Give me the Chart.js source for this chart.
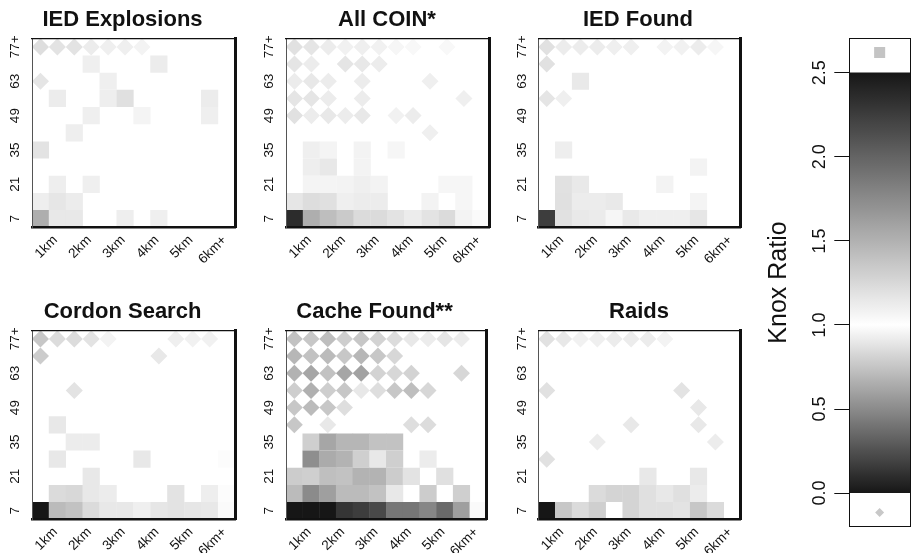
<!DOCTYPE html>
<html lang="en">
<head>
  <meta charset="UTF-8">
  <title>Knox ratio heatmaps</title>
  <script src="https://cdn.jsdelivr.net/npm/chart.js"></script>
  <style>
    body { margin: 0; background: #fff; }
    #wrap { position: relative; width: 911px; height: 553px; overflow: hidden; }
    #wrap canvas { position: absolute; }
  </style>
</head>
<body>
  <div id="wrap"></div>
  <script>
    // axis labels
    const xLabels = ['1km', '2km', '3km', '4km', '5km', '6km+'];
    const yLabels = ['7', '21', '35', '49', '63', '77+'];
    const ratioTicks = [0, 0.5, 1, 1.5, 2, 2.5];
    const legendAbove = 2.62;   // square marker = ratio above 1
    const legendBelow = -0.115; // diamond marker = ratio below 1

    // Knox ratio per cell, rows listed top (77+ days) to bottom (7 days),
    // 12 distance bins per row. 1 = nothing drawn.
    const iedExplosions = [
      [0.86, 0.88, 0.88, 0.92, 0.93, 0.93, 0.95, 1, 1, 1, 1, 1],
      [1, 1, 1, 1.1, 1, 1, 1, 1.12, 1, 1, 1, 1],
      [0.89, 1, 1, 1, 1.1, 1, 1, 1, 1, 1, 1, 1],
      [1, 1.12, 1, 1, 1.11, 1.2, 1, 1, 1, 1, 1.12, 1],
      [1, 1, 1, 1.1, 1, 1, 1.07, 1, 1, 1, 1.1, 1],
      [1, 1, 1.11, 1, 1, 1, 1, 1, 1, 1, 1, 1],
      [1.18, 1, 1, 1, 1, 1, 1, 1, 1, 1, 1, 1],
      [1, 1, 1, 1, 1, 1, 1, 1, 1, 1, 1, 1],
      [1, 1.11, 1, 1.1, 1, 1, 1, 1, 1, 1, 1, 1],
      [1.11, 1.16, 1.12, 1, 1, 1, 1, 1, 1, 1, 1, 1],
      [1.52, 1.15, 1.15, 1, 1, 1.11, 1, 1.1, 1, 1, 1, 1]
    ];
    const allCoin = [
      [0.87, 0.89, 0.92, 0.94, 0.93, 0.94, 0.96, 0.97, 1, 0.97, 1, 1],
      [0.89, 0.92, 1, 0.89, 0.9, 0.92, 1, 1, 1, 1, 1, 1],
      [0.92, 0.9, 0.92, 1, 0.92, 1, 1, 1, 0.93, 1, 1, 1],
      [0.89, 0.89, 0.92, 1, 0.92, 1, 1, 1, 1, 1, 0.93, 1],
      [0.87, 0.92, 0.9, 0.92, 0.9, 1, 0.94, 0.92, 1, 1, 1, 1],
      [1, 1, 1, 1, 1, 1, 1, 1, 0.93, 1, 1, 1],
      [1, 1.1, 1.07, 1, 1.08, 1, 1.06, 1, 1, 1, 1, 1],
      [1, 1.11, 1.15, 1, 1.08, 1, 1, 1, 1, 1, 1, 1],
      [1, 1.07, 1.07, 1.08, 1.1, 1.08, 1, 1, 1, 1.06, 1.06, 1],
      [1.16, 1.22, 1.2, 1.1, 1.12, 1.12, 1, 1, 1.08, 1, 1.06, 1],
      [2.36, 1.52, 1.42, 1.34, 1.23, 1.23, 1.18, 1.12, 1.18, 1.23, 1.08, 1.03]
    ];
    const iedFound = [
      [0.87, 0.92, 0.92, 0.92, 0.93, 0.93, 1, 0.95, 0.94, 0.92, 0.96, 1],
      [0.87, 1, 1, 1, 1, 1, 1, 1, 1, 1, 1, 1],
      [1, 1, 1.14, 1, 1, 1, 1, 1, 1, 1, 1, 1],
      [0.89, 0.93, 1, 1, 1, 1, 1, 1, 1, 1, 1, 1],
      [1, 1, 1, 1, 1, 1, 1, 1, 1, 1, 1, 1],
      [1, 1, 1, 1, 1, 1, 1, 1, 1, 1, 1, 1],
      [1, 1.11, 1, 1, 1, 1, 1, 1, 1, 1, 1, 1],
      [1, 1, 1, 1, 1, 1, 1, 1, 1, 1.08, 1, 1],
      [1, 1.19, 1.14, 1, 1, 1, 1, 1.08, 1, 1, 1, 1],
      [1, 1.2, 1.12, 1.12, 1.14, 1, 1, 1, 1, 1.07, 1, 1],
      [2.25, 1.19, 1.14, 1.13, 1.06, 1.14, 1.1, 1.1, 1.1, 1.16, 1, 1]
    ];
    const cordonSearch = [
      [0.76, 0.85, 0.85, 0.88, 0.95, 1, 1, 1, 0.93, 0.94, 0.94, 1],
      [0.78, 1, 1, 1, 1, 1, 1, 0.9, 1, 1, 1, 1],
      [1, 1, 1, 1, 1, 1, 1, 1, 1, 1, 1, 1],
      [1, 1, 0.88, 1, 1, 1, 1, 1, 1, 1, 1, 1],
      [1, 1, 1, 1, 1, 1, 1, 1, 1, 1, 1, 1],
      [1, 1.15, 1, 1, 1, 1, 1, 1, 1, 1, 1, 1],
      [1, 1, 1.12, 1.12, 1, 1, 1, 1, 1, 1, 1, 1],
      [1, 1.15, 1, 1, 1, 1, 1.15, 1, 1, 1, 1, 1.02],
      [1, 1, 1, 1.15, 1, 1, 1, 1, 1, 1, 1, 1],
      [1, 1.23, 1.25, 1.15, 1.12, 1, 1, 1, 1.18, 1, 1.11, 1.02],
      [2.5, 1.44, 1.39, 1.23, 1.15, 1.15, 1.1, 1.16, 1.18, 1.16, 1.15, 1.03]
    ];
    const cacheFound = [
      [0.74, 0.76, 0.72, 0.79, 0.76, 0.81, 0.85, 0.9, 0.92, 0.89, 0.92, 1],
      [0.69, 0.74, 0.71, 0.76, 0.69, 0.76, 0.83, 1, 1, 1, 1, 1],
      [0.67, 0.62, 0.74, 0.62, 0.6, 0.81, 0.83, 0.81, 1, 1, 0.83, 1],
      [0.79, 0.66, 0.79, 0.76, 0.9, 0.86, 0.76, 0.72, 0.83, 1, 1, 1],
      [0.76, 0.71, 0.76, 0.86, 1, 1, 1, 1, 1, 1, 1, 1],
      [0.76, 1, 0.9, 1, 1, 1, 1, 0.86, 0.85, 1, 1, 1],
      [1, 1.31, 1.57, 1.47, 1.47, 1.39, 1.39, 1, 1, 1, 1, 1],
      [1, 1.73, 1.54, 1.49, 1.31, 1.15, 1.31, 1, 1.12, 1, 1, 1],
      [1.33, 1.31, 1.41, 1.39, 1.49, 1.49, 1.33, 1.18, 1, 1.2, 1, 1],
      [1.44, 1.75, 1.62, 1.44, 1.44, 1.39, 1.15, 1, 1.33, 1, 1.31, 1],
      [2.5, 2.5, 2.5, 2.3, 2.25, 2.17, 1.88, 1.88, 1.78, 1.96, 1.62, 1.03]
    ];
    const raids = [
      [0.87, 0.9, 0.94, 0.93, 0.92, 0.92, 0.92, 0.95, 1, 1, 1, 1],
      [1, 1, 1, 1, 1, 1, 1, 1, 1, 1, 1, 1],
      [1, 1, 1, 1, 1, 1, 1, 1, 1, 1, 1, 1],
      [0.87, 1, 1, 1, 1, 1, 1, 1, 0.88, 1, 1, 1],
      [1, 1, 1, 1, 1, 1, 1, 1, 1, 0.9, 1, 1],
      [1, 1, 1, 1, 1, 0.9, 1, 1, 1, 0.9, 1, 1],
      [1, 1, 1, 0.92, 1, 1, 1, 1, 1, 1, 0.92, 1],
      [0.87, 1, 1, 1, 1, 1, 1, 1, 1, 1, 1, 1],
      [1, 1, 1, 1, 1, 1, 1.15, 1, 1, 1.15, 1, 1],
      [1, 1, 1, 1.23, 1.28, 1.28, 1.2, 1.15, 1.2, 1.12, 1, 1],
      [2.5, 1.36, 1.23, 1.31, 1, 1.28, 1.2, 1.2, 1.18, 1.36, 1.23, 1]
    ];

    const panelTitles = ['IED Explosions', 'All COIN*', 'IED Found', 'Cordon Search', 'Cache Found**', 'Raids'];
    const panelGrids = [iedExplosions, allCoin, iedFound, cordonSearch, cacheFound, raids];

    // page layout (pixels): plot edges, title centre, canvas row
    const panelBoxes = [
      { left: 32, right: 235, titleX: 122.5, row: 0 },
      { left: 286, right: 489.3, titleX: 387, row: 0 },
      { left: 538.3, right: 740.7, titleX: 638, row: 0 },
      { left: 32, right: 235, titleX: 122.5, row: 1 },
      { left: 286, right: 489, titleX: 374.7, row: 1 },
      { left: 538.3, right: 740.7, titleX: 639, row: 1 }
    ];
    const rowTop = [0, 292];
    const rowHeight = [275, 261];
    const plotBottom = 227.3; // relative to canvas top

    Chart.defaults.font.family = "'Liberation Sans', Arial, Helvetica, sans-serif";
    Chart.defaults.color = '#111';

    const DARK = 22;
    function knoxGrey(v) {
      const g = v < 1
        ? DARK + (255 - DARK) * Math.max(v, 0)
        : 255 - (255 - DARK) * Math.min(v - 1, 1.5) / 1.5;
      const n = Math.round(g);
      return 'rgb(' + n + ',' + n + ',' + n + ')';
    }

    const wrap = document.getElementById('wrap');
    function addCanvas(x, y, w, h) {
      const c = document.createElement('canvas');
      c.width = w; c.height = h;
      c.style.left = x + 'px'; c.style.top = y + 'px';
      wrap.appendChild(c);
      return c;
    }

    function cellSize(chart, cols, rows) {
      const a = chart.chartArea;
      if (!a) return { w: 17, h: 17 };
      return { w: a.width / cols, h: a.height / rows };
    }

    // frame-only axis for the top / right edge of a box
    function edgeScale(pos, size, width) {
      return {
        type: 'linear', position: pos, display: true,
        grid: { display: false, drawTicks: false },
        ticks: { display: false },
        border: { display: true, color: '#111', width: width, z: 1 },
        afterFit: s => { if (pos === 'top') s.height = size; else s.width = size; }
      };
    }

    function makePanel(i) {
      const box = panelBoxes[i];
      const grid = panelGrids[i];
      const rows = grid.length, cols = grid[0].length;
      const cx = Math.round(box.left - 32);
      const cw = Math.round(2 * (box.titleX - cx));
      const top = rowTop[box.row], ch = rowHeight[box.row];
      const canvas = addCanvas(cx, top, cw, ch);

      const squares = [], diamonds = [];
      grid.forEach((row, r) => row.forEach((v, c) => {
        const pt = { x: c, y: rows - 1 - r, v: v };
        if (v > 1) squares.push(pt);
        else if (v < 1) diamonds.push(pt);
      }));

      new Chart(canvas, {
        type: 'scatter',
        data: {
          datasets: [
            {
              data: squares, pointStyle: 'rect', pointBorderWidth: 0, clip: 0,
              pointBackgroundColor: c => knoxGrey(c.raw.v),
              pointRadius: c => { const s = cellSize(c.chart, cols, rows); return Math.max(s.w, s.h) * Math.SQRT1_2; }
            },
            {
              data: diamonds, pointStyle: 'rectRot', pointBorderWidth: 0, clip: 0,
              pointBackgroundColor: c => knoxGrey(c.raw.v),
              pointRadius: c => { const s = cellSize(c.chart, cols, rows); return (s.w + s.h) / 4; }
            }
          ]
        },
        options: {
          responsive: false, animation: false, events: [],
          layout: { padding: 0, autoPadding: false },
          plugins: {
            legend: { display: false },
            tooltip: { enabled: false },
            title: {
              display: true, text: panelTitles[i], color: '#111',
              font: { size: 22, weight: 'bold' },
              padding: { top: 6.7, bottom: 5.2 }
            }
          },
          scales: {
            x: {
              type: 'linear', position: 'bottom', min: -0.5, max: cols - 0.5,
              grid: { display: false, drawTicks: false },
              border: { display: true, color: '#111', width: 2.5, z: 1 },
              afterBuildTicks: s => { s.ticks = xLabels.map((_, k) => ({ value: 2 * k + 1 })); },
              ticks: {
                autoSkip: false, minRotation: 45, maxRotation: 45, padding: 5, labelOffset: -2,
                font: { size: 13.5 }, callback: (v, k) => xLabels[k]
              },
              afterFit: s => { s.height = ch - plotBottom; }
            },
            y: {
              type: 'linear', position: 'left', min: -0.5, max: rows - 0.5,
              grid: { display: false, drawTicks: false },
              border: { display: true, color: '#555', width: 1, z: 1 },
              afterBuildTicks: s => { s.ticks = yLabels.map((_, k) => ({ value: 2 * k })); },
              ticks: {
                autoSkip: false, minRotation: 90, maxRotation: 90, crossAlign: 'center', padding: 5,
                font: { size: 13.5 }, callback: (v, k) => yLabels[k]
              },
              afterFit: s => { s.width = box.left - cx; }
            },
            x2: edgeScale('top', 0, 1.2),
            y2: edgeScale('right', cx + cw - box.right, 3)
          }
        }
      });
    }

    panelTitles.forEach((_, i) => makePanel(i));

    // colour bar
    const cbCanvas = addCanvas(760, 0, 151, 553);
    const lo = ratioTicks[0], hi = ratioTicks[ratioTicks.length - 1];
    new Chart(cbCanvas, {
      type: 'bar',
      data: {
        labels: [''],
        datasets: [
          {
            data: [[lo, hi]], barPercentage: 1, categoryPercentage: 1, borderWidth: 0,
            backgroundColor: c => {
              const chart = c.chart, ys = chart.scales.y;
              if (!chart.chartArea || !ys) return knoxGrey(1);
              const g = chart.ctx.createLinearGradient(0, ys.getPixelForValue(lo), 0, ys.getPixelForValue(hi));
              for (let k = 0; k <= 50; k++) g.addColorStop(k / 50, knoxGrey(lo + (hi - lo) * k / 50));
              return g;
            }
          },
          {
            type: 'line', data: [legendAbove], showLine: false,
            pointStyle: 'rect', pointRadius: 7.8, pointBorderWidth: 0, pointBackgroundColor: '#c4c4c4'
          },
          {
            type: 'line', data: [legendBelow], showLine: false,
            pointStyle: 'rectRot', pointRadius: 4.5, pointBorderWidth: 0, pointBackgroundColor: '#c8c8c8'
          }
        ]
      },
      options: {
        responsive: false, animation: false, events: [],
        layout: { padding: 0, autoPadding: false },
        plugins: { legend: { display: false }, tooltip: { enabled: false } },
        scales: {
          x: {
            position: 'bottom',
            grid: { display: false, drawTicks: false },
            ticks: { display: false },
            border: { display: true, color: '#111', width: 1, z: 1 },
            afterFit: s => { s.height = 553 - 526.7; }
          },
          y: {
            position: 'left', min: -0.2, max: 2.705,
            grid: { display: true, drawOnChartArea: false, drawTicks: true, tickLength: 15, color: '#111' },
            border: { display: true, color: '#111', width: 1, z: 1 },
            afterBuildTicks: s => { s.ticks = ratioTicks.map(v => ({ value: v })); },
            ticks: {
              autoSkip: false, minRotation: 90, maxRotation: 90, crossAlign: 'center', padding: 1.5,
              font: { size: 18 }, callback: v => v.toFixed(1)
            },
            title: { display: true, text: 'Knox Ratio', font: { size: 25 }, padding: { top: 3.7, bottom: 0 } },
            afterFit: s => { s.width = 89.3; }
          },
          x2: edgeScale('top', 38.3, 1),
          y2: edgeScale('right', 1, 1)
        }
      }
    });
  </script>
</body>
</html>
